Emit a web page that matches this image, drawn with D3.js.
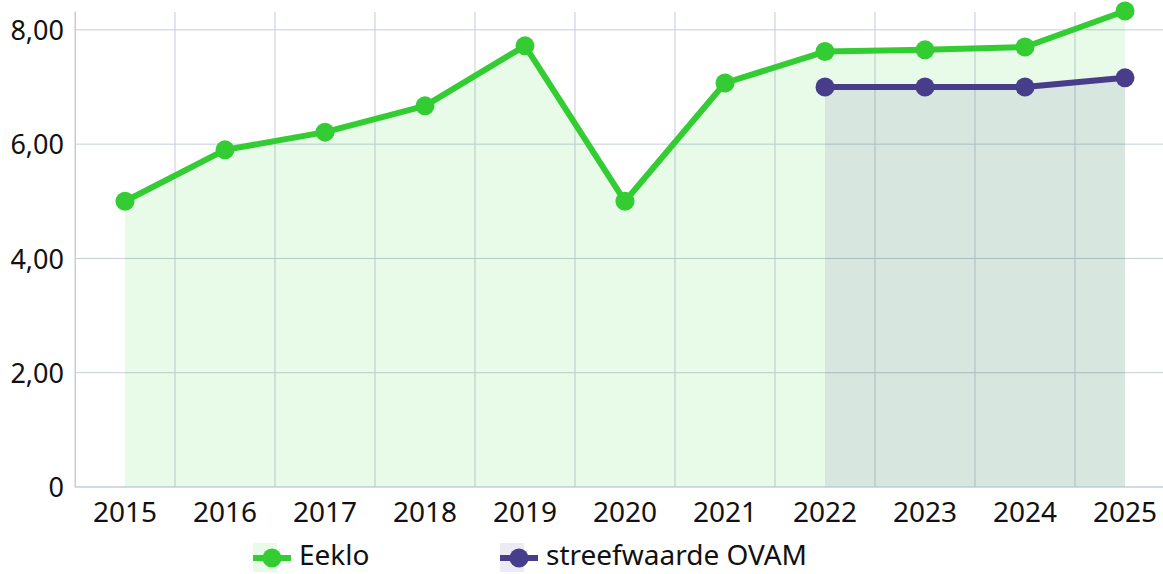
<!DOCTYPE html>
<html>
<head>
<meta charset="utf-8">
<script src="https://cdn.jsdelivr.net/npm/d3@7"></script>
<style>
  body { margin: 0; background: #fff; }
  svg { font-family: "Noto Sans", "Open Sans", sans-serif; }
  .grid line { stroke: #c5cdd8; stroke-width: 1; }
  .axis text { fill: #111; font-family: "Noto Sans", "Open Sans", sans-serif; }
</style>
</head>
<body>
<svg id="chart"></svg>
<script>
const years = ['2015', '2016', '2017', '2018', '2019', '2020', '2021', '2022', '2023', '2024', '2025']
const eeklo = [5.00, 5.90, 6.21, 6.67, 7.72, 5.00, 7.07, 7.62, 7.65, 7.70, 8.33]
const ovam = [null, null, null, null, null, null, null, 7.00, 7.00, 7.00, 7.16]
const yTicks = [0, 2, 4, 6, 8]

const series = [
  { name: 'Eeklo', values: eeklo, color: '#33cc33', fill: 'rgba(50,205,50,0.11)' },
  { name: 'streefwaarde OVAM', values: ovam, color: '#483d8b', fill: 'rgba(72,61,139,0.1)' }
]

// MARGIN CONVENTION
const totalWidth = 1163, totalHeight = 574
const margin = { left: 75, top: 11, right: -12, bottom: 87 }
const width = totalWidth - margin.left - margin.right
const height = totalHeight - margin.top - margin.bottom

const svg = d3.select('#chart')
  .attr('width', totalWidth)
  .attr('height', totalHeight)

const x = d3.scaleBand().domain(years).range([0, width])
const y = d3.scaleLinear().domain([0, 8.33]).range([height, 0])

const plot = svg.append('g')
  .attr('transform', `translate(${margin.left}, ${margin.top})`)

// GRID
const grid = plot.append('g').attr('class', 'grid')
grid.selectAll('.h').data(yTicks).enter().append('line')
  .attr('x1', 0).attr('x2', totalWidth - margin.left)
  .attr('y1', d => y(d)).attr('y2', d => y(d))
grid.selectAll('.v').data(years).enter().append('line')
  .attr('x1', d => x(d)).attr('x2', d => x(d))
  .attr('y1', 1).attr('y2', height)

// AREAS AND LINES
series.forEach(s => {
  const pts = years.map((yr, i) => ({ yr, v: s.values[i] })).filter(d => d.v !== null)
  plot.append('path')
    .datum(pts)
    .attr('fill', s.fill)
    .attr('d', d3.area()
      .x(d => x(d.yr) + x.bandwidth() / 2)
      .y0(y(0))
      .y1(d => y(d.v)))
})

series.forEach(s => {
  const pts = years.map((yr, i) => ({ yr, v: s.values[i] })).filter(d => d.v !== null)
  plot.append('path')
    .datum(pts)
    .attr('fill', 'none')
    .attr('stroke', s.color)
    .attr('stroke-width', 6)
    .attr('stroke-linejoin', 'round')
    .attr('d', d3.line()
      .x(d => x(d.yr) + x.bandwidth() / 2)
      .y(d => y(d.v)))
  plot.selectAll(null)
    .data(pts)
    .enter()
    .append('circle')
      .attr('cx', d => x(d.yr) + x.bandwidth() / 2)
      .attr('cy', d => y(d.v))
      .attr('r', 9.5)
      .attr('fill', s.color)
})

// AXES
const fmt = d => d === 0 ? '0' : d3.format('.2f')(d).replace('.', ',')
const yAxis = plot.append('g')
  .attr('class', 'axis')
  .call(d3.axisLeft(y).tickValues(yTicks).tickFormat(fmt).tickSize(0).tickPadding(11))
yAxis.select('.domain').attr('stroke', '#c5cdd8')
yAxis.selectAll('text').attr('dy', '0.36em').style('font-size', '27px')

const xAxis = plot.append('g')
  .attr('class', 'axis')
  .attr('transform', `translate(0, ${height})`)
  .call(d3.axisBottom(x).tickSize(0).tickPadding(8))
xAxis.select('.domain').remove()
xAxis.selectAll('text').attr('dy', '0.95em').style('font-size', '28px')
xAxis.append('line')
  .attr('x1', 0).attr('x2', totalWidth - margin.left)
  .attr('stroke', '#c5cdd8')

// LEGEND
const legend = svg.append('g').attr('transform', 'translate(253, 543)')
const legendX = [0, 247]
series.forEach((s, i) => {
  const g = legend.append('g').attr('transform', `translate(${legendX[i]}, 0)`)
  g.append('rect').attr('width', 24).attr('height', 29).attr('fill', s.fill)
  g.append('line').attr('x1', 0).attr('x2', 38).attr('y1', 15).attr('y2', 15)
    .attr('stroke', s.color).attr('stroke-width', 6)
  g.append('circle').attr('cx', 19).attr('cy', 15).attr('r', 9.5).attr('fill', s.color)
  g.append('text').attr('x', 46).attr('y', 22)
    .attr('font-size', 28).attr('fill', '#111').text(s.name)
})
</script>
</body>
</html>
